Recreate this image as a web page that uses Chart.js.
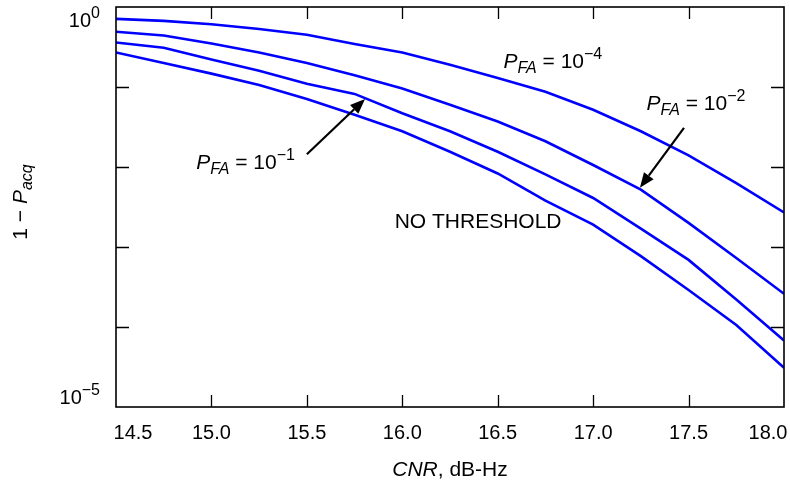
<!DOCTYPE html>
<html>
<head>
<meta charset="utf-8">
<script src="https://cdn.jsdelivr.net/npm/chart.js@4.4.0/dist/chart.umd.min.js"></script>
<style>
html, body { margin: 0; padding: 0; background: #fff; }
</style>
</head>
<body>
<canvas id="chart" width="790" height="487"></canvas>
<script>
// CNR values (dB-Hz)
var cnr = [14.5, 14.75, 15.0, 15.25, 15.5, 15.75, 16.0, 16.25, 16.5, 16.75, 17.0, 17.25, 17.5, 17.75, 18.0];

// 1 - Pacq for each curve
var pfa4 = [0.71, 0.67, 0.61, 0.53, 0.45, 0.345, 0.27, 0.19, 0.13, 0.087, 0.052, 0.028, 0.014, 0.0063, 0.0027];
var pfa2 = [0.49, 0.44, 0.35, 0.27, 0.20, 0.14, 0.096, 0.060, 0.037, 0.021, 0.0106, 0.0052, 0.0020, 0.00073, 0.00026];
var pfa1 = [0.36, 0.31, 0.22, 0.16, 0.11, 0.082, 0.047, 0.028, 0.0155, 0.0081, 0.0041, 0.0017, 0.00069, 0.00022, 0.000068];
var noThreshold = [0.27, 0.20, 0.147, 0.106, 0.071, 0.045, 0.028, 0.0155, 0.0083, 0.0038, 0.0019, 0.00077, 0.00029, 0.000106, 0.000031];

var xTickValues = [14.5, 15.0, 15.5, 16.0, 16.5, 17.0, 17.5, 18.0];
var xTickLabels = ['14.5', '15.0', '15.5', '16.0', '16.5', '17.0', '17.5', '18.0'];
var yMinorTicks = [1e-1, 1e-2, 1e-3, 1e-4];
var yLabelValues = [1, 1e-5];
var yLabelExps = ['0', '\u22125'];

// annotations, positions in data units (x = CNR, y = log10 of value)
var labels = [
    { text: 'pfa', exp: '\u22124', x: 16.53, logy: -0.76 },
    { text: 'pfa', exp: '\u22122', x: 17.28, logy: -1.29 },
    { text: 'pfa', exp: '\u22121', x: 14.92, logy: -2.03 },
    { text: 'NO THRESHOLD', x: 15.96, logy: -2.76 }
];
var arrows = [
    { x1: 15.50, logy1: -1.84, x2: 15.805, logy2: -1.15 },
    { x1: 17.476, logy1: -1.51, x2: 17.245, logy2: -2.26 }
];

var FONT = '"Liberation Sans", Arial, Helvetica, sans-serif';

function pts(ys) {
    var out = [];
    for (var i = 0; i < cnr.length; i++) {
        out.push({ x: cnr[i], y: ys[i] });
    }
    return out;
}

function drawRich(ctx, x, y, parts) {
    for (var i = 0; i < parts.length; i++) {
        var p = parts[i];
        ctx.font = (p.it ? 'italic ' : '') + p.sz + 'px ' + FONT;
        ctx.fillText(p.t, x, y + (p.dy || 0));
        x += ctx.measureText(p.t).width;
    }
    return x;
}

function richWidth(ctx, parts) {
    var w = 0;
    for (var i = 0; i < parts.length; i++) {
        var p = parts[i];
        ctx.font = (p.it ? 'italic ' : '') + p.sz + 'px ' + FONT;
        w += ctx.measureText(p.t).width;
    }
    return w;
}

function pfaParts(exp) {
    return [
        { t: 'P', it: true, sz: 21 },
        { t: 'FA', it: true, sz: 16, dy: 5 },
        { t: ' = 10', sz: 21 },
        { t: exp, sz: 16, dy: -9 }
    ];
}

var decorPlugin = {
    id: 'decor',
    afterDraw: function(chart) {
        var ctx = chart.ctx;
        var a = chart.chartArea;
        var xs = chart.scales.x;
        var ys = chart.scales.y;
        ctx.save();
        ctx.strokeStyle = '#000';
        ctx.fillStyle = '#000';
        ctx.lineWidth = 1.6;
        ctx.strokeRect(a.left, a.top, a.right - a.left, a.bottom - a.top);

        // inward ticks
        ctx.lineWidth = 1.3;
        ctx.beginPath();
        for (var i = 1; i < xTickValues.length - 1; i++) {
            var px = Math.round(xs.getPixelForValue(xTickValues[i])) + 0.5;
            ctx.moveTo(px, a.bottom); ctx.lineTo(px, a.bottom - 12);
            ctx.moveTo(px, a.top); ctx.lineTo(px, a.top + 12);
        }
        for (var j = 0; j < yMinorTicks.length; j++) {
            var py = Math.round(ys.getPixelForValue(yMinorTicks[j])) + 0.5;
            ctx.moveTo(a.left, py); ctx.lineTo(a.left + 13, py);
            ctx.moveTo(a.right, py); ctx.lineTo(a.right - 13, py);
        }
        ctx.stroke();

        // x tick labels
        ctx.font = '20px ' + FONT;
        ctx.textAlign = 'center';
        ctx.textBaseline = 'alphabetic';
        for (var k = 0; k < xTickValues.length; k++) {
            var lx = xs.getPixelForValue(xTickValues[k]);
            if (k === 0) lx += 17;
            if (k === xTickValues.length - 1) lx -= 16;
            ctx.fillText(xTickLabels[k], lx, 439);
        }

        // y labels 10^0 and 10^-5
        ctx.textAlign = 'left';
        for (var m = 0; m < yLabelValues.length; m++) {
            var parts = [{ t: '10', sz: 20 }, { t: yLabelExps[m], sz: 16, dy: -9 }];
            var w = richWidth(ctx, parts);
            var by = ys.getPixelForValue(yLabelValues[m]) + (m === 0 ? 20 : -3);
            drawRich(ctx, 100 - w, by, parts);
        }

        // axis titles
        var xt = [{ t: 'CNR', it: true, sz: 21 }, { t: ', dB-Hz', sz: 21 }];
        var xw = richWidth(ctx, xt);
        drawRich(ctx, (a.left + a.right) / 2 - xw / 2, 476, xt);

        var yt = [{ t: '1 \u2212 ', sz: 21 }, { t: 'P', it: true, sz: 21 }, { t: 'acq', it: true, sz: 16, dy: 5 }];
        var yw = richWidth(ctx, yt);
        ctx.save();
        ctx.translate(27, 202);
        ctx.rotate(-Math.PI / 2);
        drawRich(ctx, -yw / 2, 0, yt);
        ctx.restore();

        // annotations
        for (var n = 0; n < labels.length; n++) {
            var L = labels[n];
            var ax = xs.getPixelForValue(L.x);
            var ay = ys.getPixelForValue(Math.pow(10, L.logy));
            if (L.exp) {
                drawRich(ctx, ax, ay, pfaParts(L.exp));
            } else {
                drawRich(ctx, ax, ay, [{ t: L.text, sz: 21 }]);
            }
        }

        // arrows
        ctx.lineWidth = 2.2;
        for (var q = 0; q < arrows.length; q++) {
            var r = arrows[q];
            var x1 = xs.getPixelForValue(r.x1), y1 = ys.getPixelForValue(Math.pow(10, r.logy1));
            var x2 = xs.getPixelForValue(r.x2), y2 = ys.getPixelForValue(Math.pow(10, r.logy2));
            var ang = Math.atan2(y2 - y1, x2 - x1);
            var hl = 15, hw = 6;
            var bx = x2 - hl * Math.cos(ang), byy = y2 - hl * Math.sin(ang);
            ctx.beginPath();
            ctx.moveTo(x1, y1); ctx.lineTo(bx, byy);
            ctx.stroke();
            ctx.beginPath();
            ctx.moveTo(x2, y2);
            ctx.lineTo(bx + hw * Math.sin(ang), byy - hw * Math.cos(ang));
            ctx.lineTo(bx - hw * Math.sin(ang), byy + hw * Math.cos(ang));
            ctx.closePath();
            ctx.fill();
        }
        ctx.restore();
    }
};

var ctx = document.getElementById('chart').getContext('2d');
var lineStyle = { borderColor: '#0000ff', borderWidth: 2.6, pointRadius: 0, tension: 0, fill: false };

var myChart = new Chart(ctx, {
    type: 'line',
    data: {
        datasets: [
            Object.assign({ label: 'PFA = 1e-4', data: pts(pfa4) }, lineStyle),
            Object.assign({ label: 'PFA = 1e-2', data: pts(pfa2) }, lineStyle),
            Object.assign({ label: 'PFA = 1e-1', data: pts(pfa1) }, lineStyle),
            Object.assign({ label: 'No threshold', data: pts(noThreshold) }, lineStyle)
        ]
    },
    options: {
        responsive: false,
        animation: false,
        devicePixelRatio: 1,
        layout: { padding: { left: 116, top: 7, right: 6, bottom: 80 } },
        plugins: { legend: { display: false }, tooltip: { enabled: false } },
        scales: {
            x: { type: 'linear', min: 14.5, max: 18.0, display: false },
            y: { type: 'logarithmic', min: 1e-5, max: 1, display: false }
        }
    },
    plugins: [decorPlugin]
});
</script>
</body>
</html>
